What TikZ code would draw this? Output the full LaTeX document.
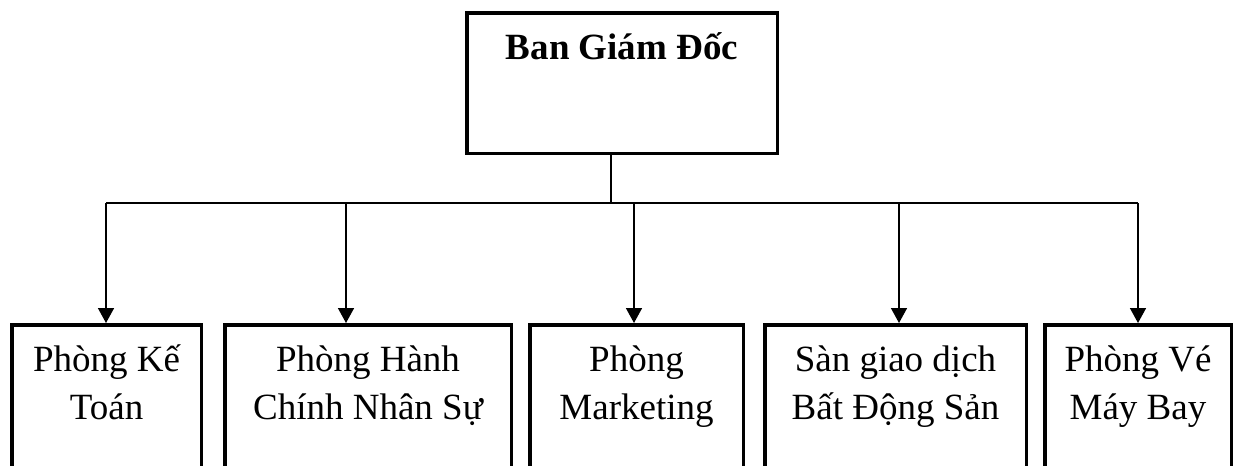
\documentclass[tikz,border=0pt]{standalone}
\usepackage{fontspec}
\setmainfont{Liberation Serif}
\usetikzlibrary{arrows.meta}

\begin{document}
\begin{tikzpicture}[x=1pt,y=-1pt,
    box/.style={draw, line width=3.5pt, rectangle, anchor=north west, inner sep=0pt},
    lbl/.style={anchor=base, align=center, font=\fontsize{37}{48}\selectfont},
    conn/.style={line width=1.6pt},
    arr/.style={conn, -{Triangle[width=16pt,length=15pt]}}]
  \clip (0,0) rectangle (1240,466);
  \node[box, minimum width=310.5pt, minimum height=140.5pt] (giamdoc) at (465,11) {};
  \node[lbl, font=\fontsize{37}{48}\selectfont\bfseries] (tgiamdoc) at ([yshift=-48pt]giamdoc.north) {Ban Giám Đốc};
  \foreach \n/\l/\w/\t in {ketoan/10/193/{Phòng Kế\\Toán},
      hanhchinh/223/290/{Phòng Hành\\Chính Nhân Sự},
      marketing/528/217/{Phòng\\Marketing},
      bds/763/265/{Sàn giao dịch\\Bất Động Sản},
      ve/1043/190/{Phòng Vé\\Máy Bay}}
    {\node[box, minimum width=\w pt-3.5pt, minimum height=200pt] (\n) at (\l,323) {};
     \node[lbl] (t\n) at ([yshift=-96pt]\n.north) {\t};}
  \coordinate (bus) at (611,203);
  \draw[conn] (giamdoc.south -| bus) -- (bus);
  \foreach \n/\x in {ketoan/106, hanhchinh/346, marketing/634, bds/899, ve/1138}
    {\coordinate (b\n) at (\x,203);
     \draw[arr] (b\n) -- (b\n |- \n.north);}
  \draw[conn] (bketoan) -- (bve);
\end{tikzpicture}
\end{document}
